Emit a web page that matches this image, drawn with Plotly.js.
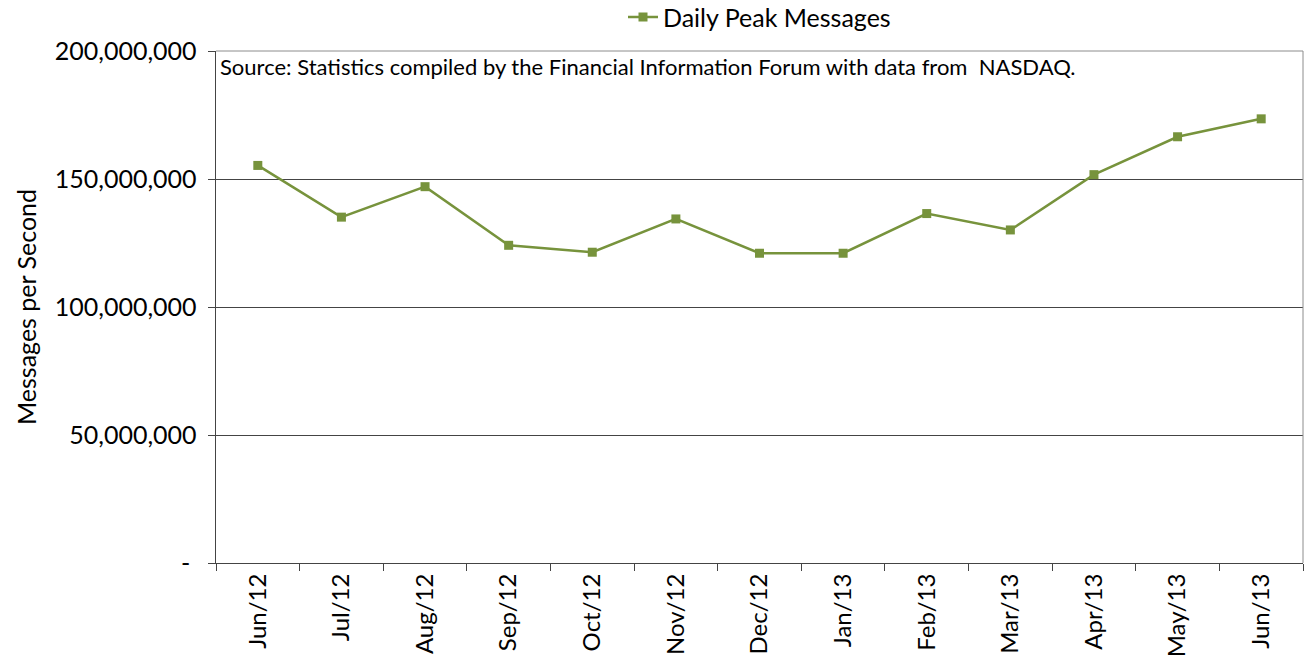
<!DOCTYPE html>
<html>
<head>
<meta charset="utf-8">
<script src="https://cdn.plot.ly/plotly-3.0.1.min.js"></script>
<style>html,body{margin:0;padding:0;background:#fff;}#chart{width:1307px;height:671px;}</style>
</head>
<body>
<div id="chart"></div>
<script>
const months = ["Jun/12","Jul/12","Aug/12","Sep/12","Oct/12","Nov/12","Dec/12","Jan/13","Feb/13","Mar/13","Apr/13","May/13","Jun/13"];
const dailyPeakMessages = [155300000,135100000,147000000,124100000,121400000,134400000,121000000,121000000,136500000,130100000,151700000,166500000,173500000];
const yTickVals = [0,50000000,100000000,150000000,200000000];
const yTickText = ["-\u00a0\u00a0","50,000,000\u00a0","100,000,000\u00a0","150,000,000\u00a0","200,000,000\u00a0"];
const sourceNote = "Source: Statistics compiled by the Financial Information Forum with data from  NASDAQ.";
const FONT = "Lato, 'Open Sans', sans-serif";

const trace = {
  x: months, y: dailyPeakMessages, type: "scatter", mode: "lines+markers",
  name: "Daily Peak Messages",
  line: {color: "#77933C", width: 2.5},
  marker: {symbol: "square", size: 9, color: "#77933C"}
};

const layout = {
  width: 1307, height: 671,
  margin: {l: 216, r: 4, t: 51, b: 108, autoexpand: false},
  paper_bgcolor: "#fff", plot_bgcolor: "#fff",
  font: {family: FONT, color: "#000", size: 21},
  showlegend: true,
  legend: {orientation: "h", x: 0.5, xanchor: "center", y: 1.066, yanchor: "middle", yref: "paper",
           font: {family: FONT, size: 25, color: "#000"}, bgcolor: "rgba(0,0,0,0)"},
  xaxis: {type: "category", range: [-0.5, 12.5], tickson: "boundaries", ticks: "outside", ticklen: 7,
          tickcolor: "#444", tickangle: -90, showline: true, linecolor: "#444", linewidth: 1,
          showgrid: false, zeroline: false, tickfont: {family: FONT, size: 24, color: "#000"}},
  yaxis: {range: [0, 200000000], tickvals: yTickVals, ticktext: yTickText, ticks: "outside", ticklen: 7,
          tickcolor: "#444", showline: true, linecolor: "#444", linewidth: 1,
          showgrid: true, gridcolor: "#444", gridwidth: 1, zeroline: false,
          tickfont: {family: FONT, size: 25, color: "#000"},
          title: {text: "Messages per Second", font: {family: FONT, size: 25, color: "#000"}, standoff: 10}},
  shapes: [
    {type: "line", xref: "paper", yref: "paper", x0: 0, x1: 1, y0: 1, y1: 1, line: {color: "#8c8c8c", width: 1}, layer: "above"},
    {type: "line", xref: "paper", yref: "paper", x0: 1, x1: 1, y0: 0, y1: 1, line: {color: "#8c8c8c", width: 1}, layer: "above"}
  ],
  annotations: [
    {text: sourceNote, xref: "paper", yref: "paper", x: 0, y: 1, xanchor: "left", yanchor: "top",
     showarrow: false, font: {family: FONT, size: 22, color: "#000"}, xshift: 2}
  ]
};

Plotly.newPlot("chart", [trace], layout, {displayModeBar: false, staticPlot: true});
</script>
</body>
</html>
